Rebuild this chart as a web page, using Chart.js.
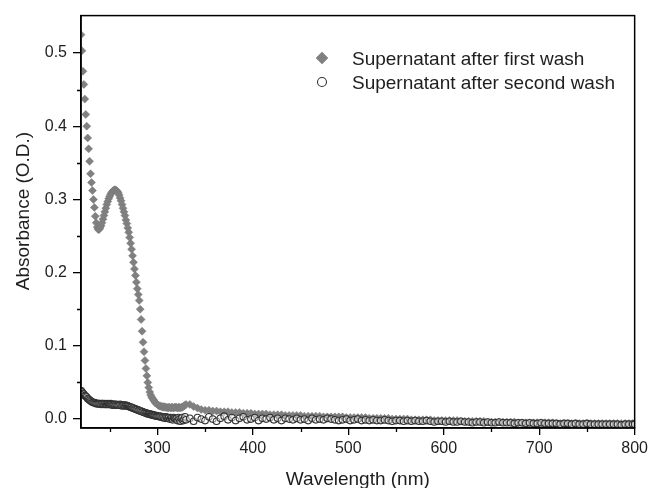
<!DOCTYPE html>
<html>
<head>
<meta charset="utf-8">
<script src="https://cdn.jsdelivr.net/npm/chart.js@4.4.1/dist/chart.umd.min.js"></script>
<style>
  body { margin: 0; background: #fff; }
  #wrap { width: 652px; height: 488px; }
</style>
</head>
<body>
<div id="wrap"><canvas id="chart" width="652" height="488"></canvas></div>
<script>
// sampling points (nm): 1 nm steps over the band, 4 nm steps in the tail
const wavelengths = [
  220,221,222,223,224,225,226,227,228,229,230,231,232,233,234,235,236,237,238,239,
  240,241,242,243,244,245,246,247,248,249,250,251,252,253,254,255,256,257,258,259,
  260,261,262,263,264,265,266,267,268,269,270,271,272,273,274,275,276,277,278,279,
  280,281,282,283,284,285,286,287,288,289,290,291,292,293,294,295,296,297,298,299,
  300,301,302,303,304,305,306,307,308,309,310,311,312,313,314,315,316,317,318,319,
  320,321,322,323,324,325,326,327,328,329,330,
  334,338,342,346,350,354,358,362,366,370,
  374,378,382,386,390,394,398,402,406,410,
  414,418,422,426,430,434,438,442,446,450,
  454,458,462,466,470,474,478,482,486,490,
  494,498,502,506,510,514,518,522,526,530,
  534,538,542,546,550,554,558,562,566,570,
  574,578,582,586,590,594,598,602,606,610,
  614,618,622,626,630,634,638,642,646,650,
  654,658,662,666,670,674,678,682,686,690,
  694,698,702,706,710,714,718,722,726,730,
  734,738,742,746,750,754,758,762,766,770,
  774,778,782,786,790,794,798,800
];

const firstWash = [
  0.525,0.503,0.475,0.457,0.437,0.416,0.400,0.384,0.369,0.352,0.335,0.323,0.312,0.300,0.289,0.277,0.268,0.262,0.259,0.259,
  0.261,0.264,0.268,0.273,0.278,0.283,0.288,0.293,0.297,0.301,0.304,0.307,0.309,0.311,0.312,0.313,0.313,0.312,0.311,0.309,
  0.306,0.302,0.298,0.293,0.288,0.283,0.278,0.272,0.267,0.261,0.255,0.248,0.240,0.232,0.223,0.214,0.205,0.196,0.187,0.178,
  0.170,0.162,0.150,0.136,0.120,0.105,0.092,0.080,0.069,0.059,0.050,0.043,0.037,0.033,0.030,0.028,0.026,0.024,0.022,0.021,
  0.020,0.019,0.018,0.018,0.017,0.017,0.016,0.017,0.016,0.016,0.016,0.015,0.016,0.016,0.015,0.016,0.016,0.015,0.016,0.016,
  0.016,0.015,0.016,0.016,0.015,0.016,0.016,0.017,0.018,0.019,0.020,
  0.020,0.017,0.015,0.013,0.012,0.012,0.011,0.011,0.010,0.010,
  0.010,0.009,0.009,0.009,0.008,0.008,0.008,0.007,0.007,0.007,
  0.007,0.006,0.006,0.006,0.006,0.005,0.005,0.005,0.005,0.005,
  0.004,0.004,0.004,0.004,0.004,0.003,0.003,0.003,0.003,0.003,
  0.003,0.002,0.002,0.002,0.002,0.002,0.002,0.001,0.001,0.001,
  0.001,0.001,0.001,0.000,0.000,0.000,0.000,0.000,-0.001,-0.001,
  -0.001,-0.001,-0.001,-0.001,-0.002,-0.002,-0.002,-0.002,-0.002,-0.002,
  -0.002,-0.003,-0.003,-0.003,-0.003,-0.003,-0.003,-0.003,-0.004,-0.004,
  -0.004,-0.004,-0.004,-0.004,-0.004,-0.004,-0.005,-0.005,-0.005,-0.005,
  -0.005,-0.005,-0.005,-0.005,-0.005,-0.005,-0.006,-0.006,-0.006,-0.006,
  -0.006,-0.006,-0.006,-0.006,-0.006,-0.006,-0.006,-0.006,-0.006,-0.006,
  -0.006,-0.006,-0.006,-0.006,-0.006,-0.006,-0.006,-0.006
];

const secondWash = [
  0.039,0.037,0.035,0.034,0.032,0.031,0.030,0.028,0.027,0.026,0.025,0.024,0.023,0.023,0.022,0.022,0.021,0.021,0.021,0.021,
  0.021,0.020,0.021,0.021,0.020,0.021,0.020,0.020,0.021,0.020,0.020,0.021,0.020,0.019,0.020,0.020,0.019,0.020,0.019,0.019,
  0.019,0.020,0.019,0.018,0.019,0.019,0.018,0.019,0.018,0.018,0.017,0.017,0.016,0.016,0.015,0.015,0.014,0.014,0.013,0.013,
  0.012,0.012,0.011,0.011,0.010,0.010,0.009,0.009,0.008,0.008,0.007,0.007,0.007,0.006,0.006,0.006,0.005,0.005,0.005,0.004,
  0.004,0.004,0.003,0.004,0.003,0.002,0.003,0.002,0.001,0.003,0.002,0.001,0.002,0.000,0.002,0.001,-0.001,0.002,0.001,0.000,
  0.001,-0.002,0.002,0.000,-0.003,0.001,0.002,-0.002,0.000,0.003,-0.001,
  0.001,-0.003,0.002,0.000,-0.002,0.003,0.000,-0.003,0.001,0.004,
  -0.001,0.002,-0.002,0.001,0.003,-0.001,0.000,0.002,-0.002,0.001,
  0.000,0.002,-0.001,0.001,-0.002,0.001,0.000,-0.001,0.001,-0.001,
  0.000,-0.002,0.001,-0.001,0.000,-0.001,0.001,0.000,-0.001,-0.002,
  -0.001,0.000,-0.002,-0.001,0.000,-0.002,-0.001,-0.002,-0.001,-0.002,
  -0.002,-0.001,-0.002,-0.003,-0.002,-0.002,-0.003,-0.002,-0.003,-0.002,
  -0.003,-0.003,-0.002,-0.003,-0.004,-0.003,-0.003,-0.004,-0.003,-0.004,
  -0.004,-0.003,-0.004,-0.004,-0.005,-0.004,-0.004,-0.005,-0.004,-0.005,
  -0.005,-0.004,-0.005,-0.005,-0.005,-0.006,-0.005,-0.005,-0.006,-0.005,
  -0.006,-0.006,-0.005,-0.006,-0.006,-0.006,-0.006,-0.007,-0.006,-0.006,
  -0.007,-0.006,-0.007,-0.007,-0.006,-0.007,-0.007,-0.007,-0.007,-0.007,
  -0.007,-0.007,-0.007,-0.008,-0.007,-0.007,-0.007,-0.007
];

const xTicks = [300, 400, 500, 600, 700, 800];
const xMinor = [250, 350, 450, 550, 650, 750];
const yTicks = [0, 0.1, 0.2, 0.3, 0.4, 0.5];
const yMinor = [0.05, 0.15, 0.25, 0.35, 0.45];

const seriesNames = ["Supernatant after first wash", "Supernatant after second wash"];
const FONT = "'Liberation Sans', Arial, Helvetica, sans-serif";
const TEXT = "#1e1e1e";

function pairs(xs, ys) {
  return xs.map((x, i) => ({ x: x, y: ys[i] }));
}

// minor ticks, closed frame, axis titles and the inset legend
const extras = {
  id: 'extras',
  afterDraw(chart) {
    const ctx = chart.ctx;
    const a = chart.chartArea;
    const xs = chart.scales.x, ys = chart.scales.y;
    ctx.save();
    ctx.strokeStyle = '#000';
    ctx.lineWidth = 1.3;
    ctx.beginPath();
    xMinor.forEach(v => {
      const px = Math.round(xs.getPixelForValue(v)) + 0.5;
      ctx.moveTo(px, a.bottom);
      ctx.lineTo(px, a.bottom + 4);
    });
    yMinor.forEach(v => {
      const py = Math.round(ys.getPixelForValue(v)) + 0.5;
      ctx.moveTo(a.left, py);
      ctx.lineTo(a.left - 4, py);
    });
    ctx.stroke();

    ctx.lineWidth = 1.5;
    ctx.strokeRect(a.left, a.top, a.right - a.left, a.bottom - a.top);

    ctx.fillStyle = TEXT;
    ctx.font = '19px ' + FONT;
    ctx.textAlign = 'center';
    ctx.textBaseline = 'alphabetic';
    ctx.fillText('Wavelength (nm)', (a.left + a.right) / 2, 485);
    ctx.save();
    ctx.translate(29, 211);
    ctx.rotate(-Math.PI / 2);
    ctx.fillText('Absorbance (O.D.)', 0, 0);
    ctx.restore();

    // legend
    const rows = [58, 82];
    chart.data.datasets.forEach((ds, i) => {
      ctx.fillStyle = i === 0 ? ds.backgroundColor : '#fff';
      ctx.strokeStyle = ds.borderColor;
      ctx.lineWidth = ds.borderWidth;
      Chart.helpers.drawPoint(ctx, {
        pointStyle: ds.pointStyle,
        radius: i === 0 ? 6 : 4.5,
        rotation: 0,
        borderWidth: ds.borderWidth
      }, 322, rows[i]);
      ctx.fillStyle = TEXT;
      ctx.textAlign = 'left';
      ctx.fillText(ds.label, 352, rows[i] + 6.5);
    });
    ctx.restore();
  }
};

new Chart(document.getElementById('chart'), {
  type: 'scatter',
  data: {
    datasets: [
      {
        label: seriesNames[0],
        data: pairs(wavelengths, firstWash),
        pointStyle: 'rectRot',
        pointRadius: 4,
        backgroundColor: 'rgb(128,128,128)',
        borderColor: 'rgb(120,120,120)',
        borderWidth: 0.5,
        order: 1
      },
      {
        label: seriesNames[1],
        data: pairs(wavelengths, secondWash),
        pointStyle: 'circle',
        pointRadius: 3.3,
        backgroundColor: 'rgba(255,255,255,0.45)',
        borderColor: 'rgb(50,50,50)',
        borderWidth: 1.1,
        order: 0
      }
    ]
  },
  options: {
    responsive: false,
    animation: false,
    devicePixelRatio: 1,
    events: [],
    layout: { padding: { left: 0, top: 14, right: 13, bottom: 0 } },
    plugins: {
      legend: { display: false },
      tooltip: { enabled: false }
    },
    scales: {
      x: {
        type: 'linear',
        min: 220,
        max: 800,
        afterFit(s) { s.height = 60; },
        afterBuildTicks(s) { s.ticks = xTicks.map(v => ({ value: v })); },
        grid: { drawOnChartArea: false, tickLength: 7, color: '#000', lineWidth: 1.3 },
        border: { display: true, color: '#000', width: 1.5 },
        ticks: {
          padding: 4,
          maxRotation: 0,
          color: TEXT,
          font: { family: FONT, size: 16 },
          callback: v => String(v)
        }
      },
      y: {
        type: 'linear',
        min: -0.0122,
        max: 0.551,
        afterFit(s) { s.width = 81; },
        afterBuildTicks(s) { s.ticks = yTicks.map(v => ({ value: v })); },
        grid: { drawOnChartArea: false, tickLength: 8, color: '#000', lineWidth: 1.3 },
        border: { display: true, color: '#000', width: 1.5 },
        ticks: {
          padding: 6,
          color: TEXT,
          font: { family: FONT, size: 16 },
          callback: v => v.toFixed(1)
        }
      }
    }
  },
  plugins: [extras]
});
</script>
</body>
</html>
